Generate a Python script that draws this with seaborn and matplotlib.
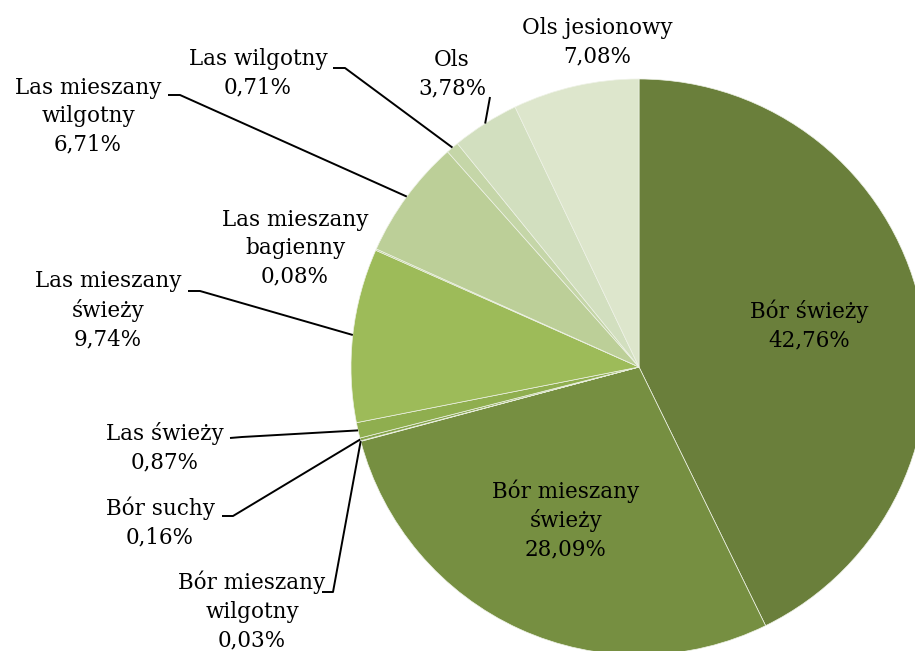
"""
Forest habitat types - share of area (pie chart)
"""

import numpy as np
import matplotlib
matplotlib.use('Agg')
import matplotlib.pyplot as plt
import seaborn as sns

# Data (clockwise from 12 o'clock)
habitats = [
    'Bór świeży', 'Bór mieszany\nświeży', 'Bór mieszany\nwilgotny', 'Bór suchy',
    'Las świeży', 'Las mieszany\nświeży', 'Las mieszany\nbagienny',
    'Las mieszany\nwilgotny', 'Las wilgotny', 'Ols', 'Ols jesionowy',
]
shares = [42.76, 28.09, 0.03, 0.16, 0.87, 9.74, 0.08, 6.71, 0.71, 3.78, 7.08]
colors = [
    '#6a7f3b', '#768f41', '#7f9b47', '#86a54b', '#8fae4f', '#9dbb59',
    '#b3c98a', '#bccf98', '#c5d6a8', '#d2dfbf', '#dde6cc',
]

W, H = 915, 651

# label layout: text centre (x, y from top) and whether a leader line is drawn
layout = {
    'Bór świeży': (809, 325, False),
    'Bór mieszany\nświeży': (566, 520, False),
    'Bór mieszany\nwilgotny': (252, 611, True),
    'Bór suchy': (160, 522, True),
    'Las świeży': (165, 448, True),
    'Las mieszany\nświeży': (108, 310, True),
    'Las mieszany\nbagienny': (295, 248, False),
    'Las mieszany\nwilgotny': (88, 116, True),
    'Las wilgotny': (258, 73, True),
    'Ols': (452, 74, True),
    'Ols jesionowy': (597, 42, False),
}
# where the leader line leaves the label (pixel coords, from top)
leader_start = {
    'Bór mieszany\nwilgotny': [(322, 592), (333, 592)],
    'Bór suchy': [(222, 516), (233, 516)],
    'Las świeży': [(230, 438), (242, 437)],
    'Las mieszany\nświeży': [(188, 291), (200, 291)],
    'Las mieszany\nwilgotny': [(168, 95), (180, 95)],
    'Las wilgotny': [(333, 68), (345, 68)],
    'Ols': [(490, 97)],
}

sns.set_style('white')
plt.rcParams['font.family'] = ['DejaVu Serif']

fig = plt.figure(figsize=(W / 100, H / 100), dpi=100)
ax = fig.add_axes([0, 0, 1, 1])

cx, cy, r = 639, H - 367, 288
wedges, _ = ax.pie(
    shares, colors=colors, startangle=90, counterclock=False,
    center=(cx, cy), radius=r,
    wedgeprops={'edgecolor': '#eef2e6', 'linewidth': 0.5},
)
ax.set_xlim(0, W)
ax.set_ylim(0, H)
ax.set_aspect('equal')
ax.axis('off')

for wedge, name, val in zip(wedges, habitats, shares):
    tx, ty, has_leader = layout[name]
    label = f'{name}\n{val:.2f}%'.replace('.', ',')
    ax.text(tx, H - ty, label, ha='center', va='center', fontsize=15.5,
            linespacing=1.38, color='black')
    if has_leader:
        mid = np.deg2rad((wedge.theta1 + wedge.theta2) / 2)
        ex = wedge.center[0] + wedge.r * np.cos(mid)
        ey = wedge.center[1] + wedge.r * np.sin(mid)
        pts = [(px, H - py) for px, py in leader_start[name]] + [(ex, ey)]
        xs, ys = zip(*pts)
        ax.plot(xs, ys, color='black', lw=1.4, solid_capstyle='butt')

fig.savefig('out.png', dpi=100)
plt.close(fig)
